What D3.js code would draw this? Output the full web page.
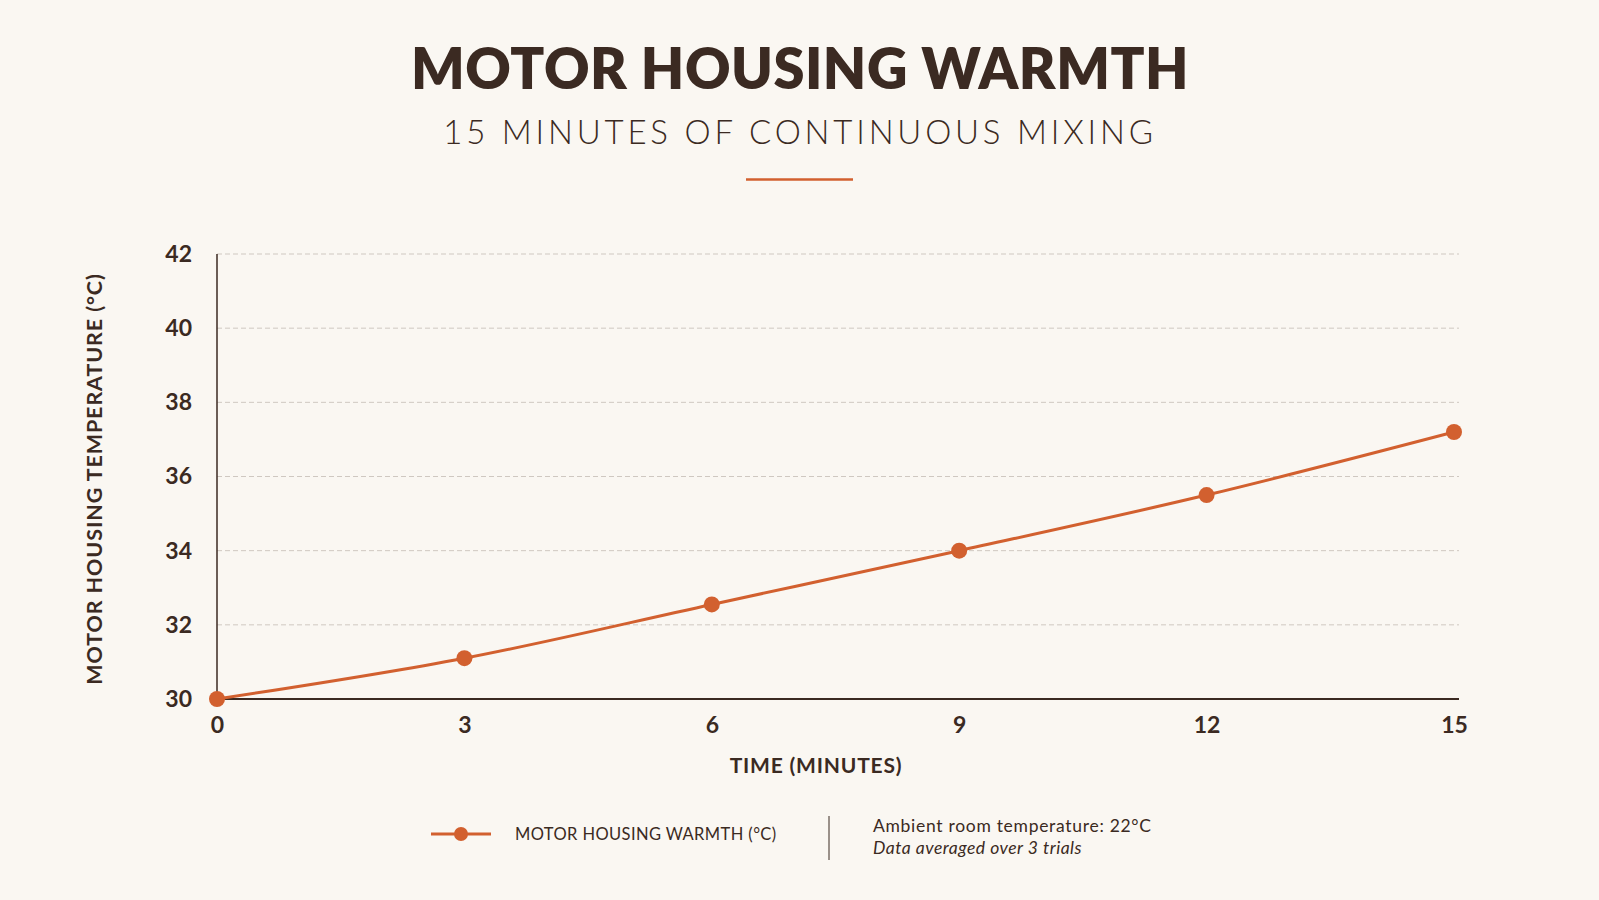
<!DOCTYPE html>
<html>
<head>
<meta charset="utf-8">
<script src="https://cdn.jsdelivr.net/npm/d3@7"></script>
<style>
  html, body { margin: 0; padding: 0; background: #faf7f2; }
  svg { display: block; font-family: Lato, "Open Sans", sans-serif; }
</style>
</head>
<body>
<div id="chart"></div>
<script>
const minutes = [0, 3, 6, 9, 12, 15];
const temps = [30.0, 31.1, 32.55, 34.0, 35.5, 37.2];
const yTicks = [30, 32, 34, 36, 38, 40, 42];
const xTicks = [0, 3, 6, 9, 12, 15];

const title = "MOTOR HOUSING WARMTH";
const subtitle = "15 MINUTES OF CONTINUOUS MIXING";
const xLabel = "TIME (MINUTES)";
const yLabel = "MOTOR HOUSING TEMPERATURE (°C)";
const legendLabel = "MOTOR HOUSING WARMTH (°C)";
const noteLines = ["Ambient room temperature: 22°C", "Data averaged over 3 trials"];

const width = 1599, height = 900;
const ink = "#3b2a22";
const accent = "#d2602f";

const svg = d3.select("#chart")
  .append("svg")
  .attr("width", width)
  .attr("height", height);

svg.append("rect").attr("width", width).attr("height", height).attr("fill", "#faf7f2");

// titles
svg.append("text")
  .attr("x", 800).attr("y", 89)
  .attr("text-anchor", "middle")
  .attr("font-size", 56).attr("font-weight", 800)
  .attr("letter-spacing", 0.5)
  .attr("fill", ink)
  .text(title);

svg.append("text")
  .attr("x", 800).attr("y", 144)
  .attr("text-anchor", "middle")
  .attr("font-size", 33).attr("font-weight", 300)
  .attr("letter-spacing", 3.8)
  .attr("fill", ink)
  .text(subtitle);

svg.append("line")
  .attr("x1", 746).attr("x2", 853)
  .attr("y1", 179.5).attr("y2", 179.5)
  .attr("stroke", accent).attr("stroke-width", 2.5);

const margin = { top: 254, right: 140, bottom: 201, left: 217 };
const innerWidth = 1459 - margin.left;
const innerHeight = 699 - margin.top;

const g = svg.append("g")
  .attr("transform", `translate(${margin.left},${margin.top})`);

const x = d3.scaleLinear().domain([0, 15]).range([0, 1237]);
const y = d3.scaleLinear().domain([30, 42]).range([innerHeight, 0]);

// gridlines
g.selectAll(".grid")
  .data(yTicks.filter(d => d !== 30))
  .enter()
  .append("line")
  .attr("class", "grid")
  .attr("x1", 0).attr("x2", innerWidth)
  .attr("y1", d => y(d)).attr("y2", d => y(d))
  .attr("stroke", "#cfc8c1")
  .attr("stroke-width", 1)
  .attr("stroke-dasharray", "5,3");

// axes
const yAxis = g.append("g")
  .call(d3.axisLeft(y).tickValues(yTicks).tickSize(0).tickPadding(25));
yAxis.select(".domain").remove();
yAxis.selectAll("text")
  .attr("font-size", 23).attr("font-weight", 700)
  .attr("fill", ink)
  .attr("font-family", "Lato, sans-serif");

const xAxis = g.append("g")
  .attr("transform", `translate(0,${innerHeight})`)
  .call(d3.axisBottom(x).tickValues(xTicks).tickSize(0).tickPadding(18));
xAxis.select(".domain").remove();
xAxis.selectAll("text")
  .attr("font-size", 23).attr("font-weight", 700)
  .attr("fill", ink)
  .attr("font-family", "Lato, sans-serif");

g.append("line")
  .attr("x1", 0).attr("x2", 0).attr("y1", 0).attr("y2", innerHeight)
  .attr("stroke", ink).attr("stroke-width", 1.5);
g.append("line")
  .attr("x1", 0).attr("x2", innerWidth).attr("y1", innerHeight).attr("y2", innerHeight)
  .attr("stroke", ink).attr("stroke-width", 2);

// axis titles
svg.append("text")
  .attr("x", 816).attr("y", 773)
  .attr("text-anchor", "middle")
  .attr("font-size", 21).attr("font-weight", 700)
  .attr("letter-spacing", 0.8)
  .attr("fill", ink)
  .text(xLabel);

svg.append("text")
  .attr("transform", "translate(102,479) rotate(-90)")
  .attr("text-anchor", "middle")
  .attr("font-size", 21.5).attr("font-weight", 700)
  .attr("letter-spacing", 0.9)
  .attr("fill", ink)
  .text(yLabel);

// series
const data = minutes.map((m, i) => ({ m, t: temps[i] }));

const line = d3.line()
  .x(d => x(d.m))
  .y(d => y(d.t))
  .curve(d3.curveMonotoneX);

g.append("path")
  .datum(data)
  .attr("fill", "none")
  .attr("stroke", accent)
  .attr("stroke-width", 3)
  .attr("d", line);

g.selectAll(".point")
  .data(data)
  .enter()
  .append("circle")
  .attr("class", "point")
  .attr("cx", d => x(d.m))
  .attr("cy", d => y(d.t))
  .attr("r", 8)
  .attr("fill", accent);

// legend
const lg = svg.append("g");
lg.append("line")
  .attr("x1", 431).attr("x2", 491).attr("y1", 834).attr("y2", 834)
  .attr("stroke", accent).attr("stroke-width", 3);
lg.append("circle").attr("cx", 461).attr("cy", 834).attr("r", 7).attr("fill", accent);
lg.append("text")
  .attr("x", 515).attr("y", 840)
  .attr("font-size", 16.5)
  .attr("letter-spacing", 0.4)
  .attr("fill", ink)
  .text(legendLabel);
lg.append("line")
  .attr("x1", 829).attr("x2", 829).attr("y1", 816).attr("y2", 860)
  .attr("stroke", ink).attr("stroke-width", 1);
lg.append("text")
  .attr("x", 873).attr("y", 832)
  .attr("font-size", 17.5)
  .attr("letter-spacing", 0.7)
  .attr("fill", ink)
  .text(noteLines[0]);
lg.append("text")
  .attr("x", 873).attr("y", 854)
  .attr("font-size", 17.5)
  .attr("font-style", "italic")
  .attr("letter-spacing", 0.5)
  .attr("fill", ink)
  .text(noteLines[1]);
</script>
</body>
</html>
